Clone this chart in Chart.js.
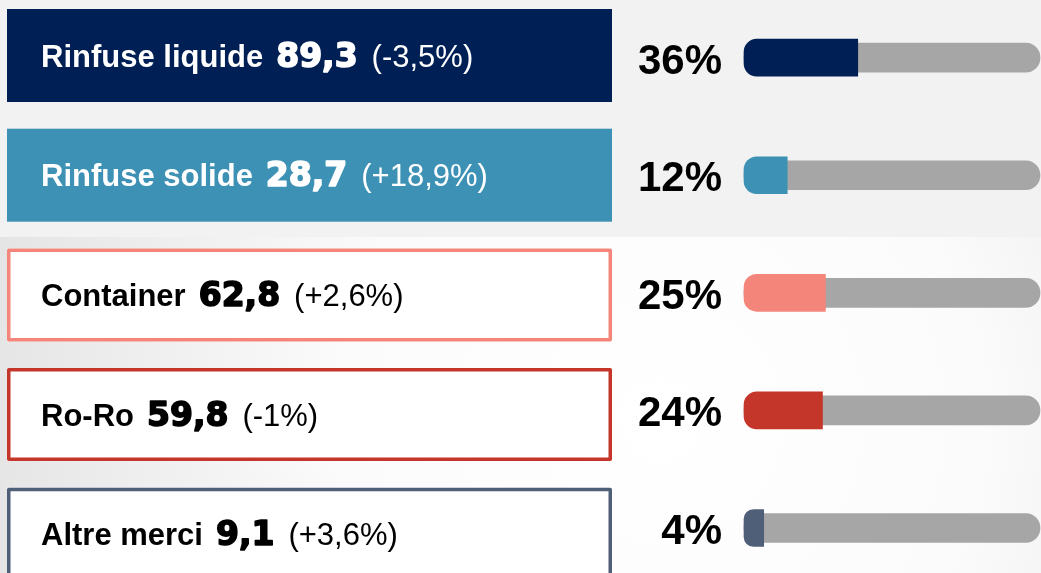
<!DOCTYPE html>
<html>
<head>
<meta charset="utf-8">
<script src="https://cdn.jsdelivr.net/npm/chart.js@4"></script>
<style>
  html, body { margin: 0; padding: 0; background: #f2f2f2; }
  #wrap { position: relative; width: 1041px; height: 573px; }
</style>
</head>
<body>
<div id="wrap"><canvas id="myChart"></canvas></div>
<script>
// dati (milioni di tonnellate, variazione %, quota %)
const categories = ["Rinfuse liquide", "Rinfuse solide", "Container", "Ro-Ro", "Altre merci"];
const volumes = [89.3, 28.7, 62.8, 59.8, 9.1];
const changes = [-3.5, 18.9, 2.6, -1, 3.6];
const shares = [36, 12, 25, 24, 4];

const colors = ["#001f54", "#3d91b4", "#f4857a", "#c4352a", "#4f5f78"];
const filled = [true, true, false, false, false];

// scala delle barre
const AXIS_MIN = -2.7;
const AXIS_MAX = 98;

// formato italiano: virgola decimale
function fmt(v) {
	return String(v).replace(".", ",");
}
function fmtChange(v) {
	const sign = v > 0 ? "+" : v < 0 ? "-" : "";
	return "(" + sign + fmt(Math.abs(v)) + "%)";
}

const boxesPlugin = {
	id: "boxes",
	beforeDraw(chart) {
		const { ctx, width, height } = chart;
		ctx.save();
		// sfondo: fascia alta grigia, sotto sfumatura chiara
		ctx.fillStyle = "#f2f2f2";
		ctx.fillRect(0, 0, width, height);
		const g = ctx.createRadialGradient(660, 420, 0, 660, 420, 720);
		g.addColorStop(0, "#ffffff");
		g.addColorStop(0.45, "#fbfbfb");
		g.addColorStop(1, "#e2e2e2");
		ctx.fillStyle = g;
		ctx.fillRect(0, 237, width, height - 237);

		// riquadri a sinistra
		const boxTop = 9, boxPitch = 119.7, boxH = 93, boxL = 7, boxW = 605;
		categories.forEach((name, i) => {
			const top = boxTop + i * boxPitch;
			const cy = top + boxH / 2;
			if (filled[i]) {
				ctx.fillStyle = colors[i];
				ctx.fillRect(boxL, top, boxW, boxH);
			} else {
				ctx.fillStyle = "#ffffff";
				ctx.fillRect(boxL, top, boxW, boxH);
				ctx.strokeStyle = colors[i];
				ctx.lineWidth = 3.5;
				ctx.strokeRect(boxL + 1.75, top + 1.75, boxW - 3.5, boxH - 3.5);
			}
			const base = cy + 11;
			const txt = filled[i] ? "#ffffff" : "#000000";
			let x = 41;
			ctx.fillStyle = txt;
			ctx.textBaseline = "alphabetic";
			ctx.textAlign = "left";
			ctx.font = "bold 31px 'Liberation Sans', Arial, sans-serif";
			ctx.fillText(name, x, base);
			x += ctx.measureText(name).width + 13;
			// numero più pesante
			ctx.font = "bold 33px 'DejaVu Sans', sans-serif";
			const num = fmt(volumes[i]);
			ctx.strokeStyle = txt;
			ctx.lineWidth = 1.6;
			ctx.lineJoin = "round";
			ctx.strokeText(num, x, base);
			ctx.fillText(num, x, base);
			x += ctx.measureText(num).width + 14;
			ctx.font = "31px 'Liberation Sans', Arial, sans-serif";
			ctx.fillText(fmtChange(changes[i]), x, base);
		});
		ctx.restore();
	},
	afterDatasetsDraw(chart) {
		const { ctx, chartArea } = chart;
		const yScale = chart.scales.y;
		ctx.save();
		ctx.fillStyle = "#000000";
		ctx.font = "bold 42px 'Liberation Sans', Arial, sans-serif";
		ctx.textAlign = "right";
		ctx.textBaseline = "alphabetic";
		shares.forEach((v, i) => {
			const y = yScale.getPixelForValue(i);
			ctx.fillText(v + "%", chartArea.left - 22, y + 16);
		});
		ctx.restore();
	},
};

const ctx = document.getElementById("myChart");
new Chart(ctx, {
	type: "bar",
	data: {
		labels: categories,
		datasets: [
			{
				label: "quota",
				data: shares.map((v) => [AXIS_MIN, v]),
				backgroundColor: colors,
				barThickness: 37,
				borderSkipped: false,
				borderRadius: { topLeft: 13, bottomLeft: 13, topRight: 0, bottomRight: 0 },
				grouped: false,
				clip: false,
				order: 0,
			},
			{
				label: "totale",
				data: shares.map(() => [AXIS_MIN, AXIS_MAX]),
				backgroundColor: "#a6a6a6",
				barThickness: 29,
				borderSkipped: false,
				borderRadius: 14.5,
				grouped: false,
				clip: false,
				order: 1,
			},
		],
	},
	options: {
		indexAxis: "y",
		responsive: true,
		maintainAspectRatio: false,
		animation: false,
		layout: {
			padding: { left: 744, right: 1, top: 57.7, bottom: 45 },
		},
		scales: {
			x: { display: false, min: AXIS_MIN, max: AXIS_MAX },
			y: { display: false, offset: false },
		},
		plugins: {
			legend: { display: false },
			tooltip: { enabled: false },
		},
	},
	plugins: [boxesPlugin],
});
</script>
</body>
</html>
